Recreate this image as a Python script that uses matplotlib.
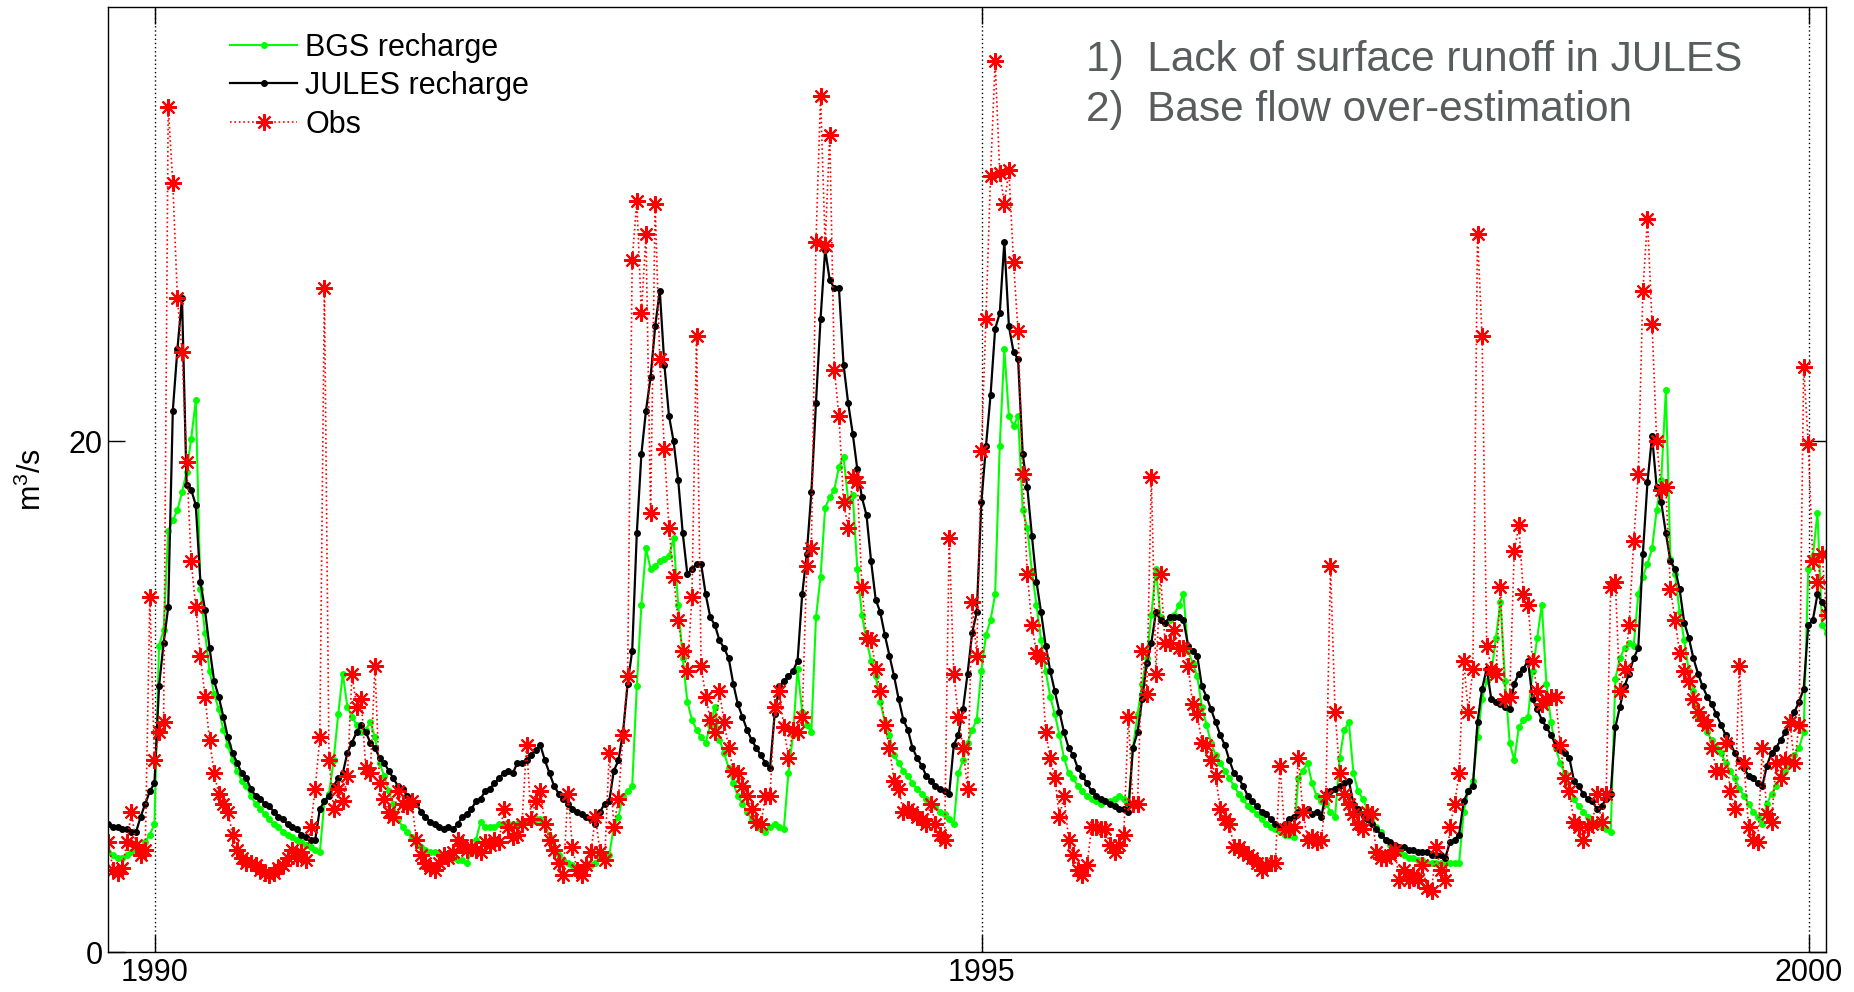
import numpy as np
import matplotlib
matplotlib.use('Agg')
import matplotlib.pyplot as plt

plt.rcParams['font.family'] = ['Liberation Sans', 'DejaVu Sans']
plt.rcParams['mathtext.fontset'] = 'custom'
plt.rcParams['mathtext.rm'] = 'Liberation Sans'

# dekadal series (36 values a year), first value late Sept 1989
t_start = 1989.72
steps_per_year = 36

jules = [
    # 1989
    5.0, 4.9, 4.9, 4.8, 4.8, 4.7, 4.7, 5.3, 5.8, 6.3, 6.6,
    # 1990
    10.4, 12.1, 13.5, 21.2, 23.6, 25.6, 18.3, 18.1, 17.5, 14.5, 13.4, 11.9,
    10.6, 10.0, 9.2, 8.4, 7.8, 7.4, 7.0, 6.8, 6.4, 6.1, 6.0, 5.8,
    5.7, 5.5, 5.3, 5.2, 5.0, 4.9, 4.8, 4.6, 4.5, 4.4, 4.4, 5.6,
    # 1991
    5.9, 6.1, 6.5, 6.8, 7.0, 7.8, 8.2, 8.6, 8.9, 8.6, 8.2, 8.0,
    7.6, 7.4, 7.1, 6.8, 6.5, 6.4, 6.1, 5.9, 5.8, 5.5, 5.3, 5.1,
    5.0, 4.9, 4.8, 4.9, 4.8, 5.0, 5.3, 5.4, 5.6, 5.9, 6.0, 6.3,
    # 1992
    6.4, 6.6, 6.8, 7.0, 7.1, 7.0, 7.4, 7.4, 7.5, 7.7, 7.9, 8.1,
    7.5, 7.0, 6.5, 6.2, 6.0, 5.8, 5.6, 5.5, 5.4, 5.3, 5.2, 5.0,
    5.5, 5.8, 5.9, 7.1, 7.5, 8.6, 10.5, 11.8, 16.4, 19.5, 21.2, 22.5,
    # 1993
    24.5, 25.9, 23.0, 21.0, 20.0, 18.5, 16.4, 14.8, 15.0, 15.2, 15.2, 14.0,
    13.1, 12.8, 12.2, 11.9, 11.5, 10.5, 9.7, 9.2, 8.7, 8.3, 8.0, 7.7,
    7.4, 7.2, 9.3, 10.4, 10.6, 10.8, 11.0, 11.4, 14.0, 15.6, 18.0, 21.5,
    # 1994
    24.8, 27.5, 26.3, 26.0, 26.0, 23.0, 21.5, 20.3, 18.9, 17.8, 17.1, 15.3,
    13.8, 13.3, 12.4, 11.6, 10.8, 9.9, 9.1, 8.7, 8.0, 7.6, 7.3, 6.9,
    6.7, 6.5, 6.4, 6.3, 6.2, 8.1, 8.5, 9.5, 10.9, 12.5, 13.3, 17.6,
    # 1995
    19.8, 21.8, 24.4, 25.0, 27.8, 24.5, 23.5, 23.2, 19.5, 18.2, 16.3, 14.5,
    13.3, 12.0, 11.0, 10.2, 9.4, 8.6, 8.0, 7.7, 7.2, 6.9, 6.6, 6.3,
    6.1, 6.0, 5.9, 5.8, 5.7, 5.6, 5.6, 5.5, 8.0, 8.6, 9.9, 11.3,
    # 1996
    12.1, 13.3, 13.0, 12.9, 13.1, 13.1, 13.1, 13.0, 12.0, 11.8, 11.6, 10.4,
    10.0, 9.5, 9.0, 8.5, 8.1, 7.5, 7.0, 6.8, 6.5, 6.1, 5.9, 5.7,
    5.5, 5.4, 5.2, 5.0, 4.9, 5.0, 5.2, 5.3, 5.5, 5.5, 5.6, 5.4,
    # 1997
    5.5, 5.3, 6.2, 6.3, 6.4, 6.5, 6.6, 6.7, 5.8, 5.6, 5.4, 5.2,
    5.0, 4.8, 4.6, 4.4, 4.3, 4.2, 4.1, 4.1, 4.0, 4.0, 3.9, 3.9,
    3.9, 3.8, 3.8, 3.8, 3.7, 4.3, 4.4, 4.6, 5.9, 6.3, 6.5, 9.0,
    # 1998
    10.3, 11.1, 9.9, 9.8, 9.7, 9.6, 9.5, 10.5, 10.9, 11.1, 11.4, 9.9,
    9.5, 9.1, 8.8, 8.5, 8.1, 7.9, 7.8, 7.6, 6.7, 6.5, 6.2, 6.0,
    5.9, 5.6, 5.7, 6.0, 6.2, 8.8, 9.6, 10.4, 10.9, 11.5, 11.9, 15.6,
    # 1999
    18.4, 20.2, 18.2, 17.6, 16.4, 15.3, 15.0, 14.2, 12.9, 12.3, 11.5, 10.9,
    10.4, 10.0, 9.7, 9.3, 8.9, 8.5, 8.2, 7.8, 7.5, 7.2, 6.9, 6.8,
    6.6, 6.5, 7.3, 7.8, 8.0, 8.3, 8.6, 9.0, 9.4, 9.8, 10.3, 12.8,
    # 2000
    13.0, 14.0, 13.7, 13.4,
]

bgs = [
    # 1989
    3.9, 3.8, 3.7, 3.7, 3.8, 3.9, 4.0, 4.1, 4.3, 4.6, 5.0,
    # 1990
    12.0, 12.6, 16.5, 16.9, 17.3, 18.0, 18.8, 20.1, 21.6, 14.2, 12.5, 11.0,
    10.1, 9.5, 8.7, 8.1, 7.5, 7.1, 6.7, 6.5, 6.1, 5.8, 5.6, 5.4,
    5.2, 5.0, 4.9, 4.7, 4.6, 4.5, 4.4, 4.3, 4.2, 4.1, 4.0, 3.9,
    # 1991
    5.9, 6.2, 7.5, 9.3, 10.9, 9.6, 9.2, 8.9, 8.6, 8.7, 9.0, 8.4,
    7.4, 6.9, 6.3, 5.8, 5.2, 4.9, 4.7, 4.5, 4.3, 4.1, 4.0, 3.9,
    3.9, 3.8, 3.8, 3.7, 3.7, 3.6, 3.6, 3.5, 3.9, 4.4, 5.1, 4.9,
    # 1992
    4.9, 4.9, 5.0, 5.0, 5.0, 5.0, 5.0, 5.0, 5.1, 5.1, 5.2, 5.2,
    5.0, 4.5, 4.0, 3.8, 3.6, 3.5, 3.4, 3.3, 3.3, 3.3, 3.4, 3.5,
    3.7, 3.8, 3.8, 4.9, 5.3, 6.1, 6.3, 6.5, 10.4, 13.6, 15.8, 15.0,
    # 1993
    15.1, 15.3, 15.4, 15.5, 16.2, 13.6, 11.5, 9.8, 9.1, 8.7, 8.4, 8.2,
    8.9, 9.6, 8.3, 7.8, 7.2, 6.6, 6.1, 5.8, 5.5, 5.2, 5.0, 4.8,
    4.7, 4.9, 5.0, 4.9, 4.8, 7.0, 8.5, 11.1, 9.4, 8.9, 8.6, 13.1,
    # 1994
    14.7, 17.4, 17.8, 18.1, 19.0, 19.4, 17.7, 17.9, 15.0, 13.2, 12.2, 11.4,
    10.8, 9.8, 9.0, 8.5, 7.7, 7.4, 7.1, 6.9, 6.6, 6.4, 6.2, 6.0,
    5.8, 5.7, 5.5, 5.4, 5.2, 5.0, 7.0, 7.5, 8.2, 8.7, 9.1, 11.0,
    # 1995
    12.4, 13.0, 14.0, 19.8, 23.6, 21.0, 20.6, 21.0, 17.3, 16.6, 14.9, 13.6,
    12.2, 11.0, 10.0, 9.3, 8.5, 7.6, 7.0, 6.8, 6.5, 6.3, 6.1, 6.0,
    5.9, 5.8, 5.9, 5.9, 6.0, 6.1, 6.0, 5.8, 8.0, 9.3, 10.5, 11.5,
    # 1996
    13.2, 15.0, 13.1, 12.9, 13.0, 13.2, 13.6, 14.0, 11.8, 11.3, 10.8, 9.6,
    8.9, 8.2, 7.7, 7.4, 7.1, 6.8, 6.5, 6.2, 6.0, 5.7, 5.6, 5.4,
    5.2, 5.0, 4.9, 4.8, 4.7, 4.6, 4.6, 4.5, 6.8, 7.1, 7.4, 6.6,
    # 1997
    6.1, 5.9, 5.8, 5.5, 5.3, 7.6, 8.7, 9.0, 7.0, 6.3, 6.0, 5.6,
    5.3, 4.9, 4.7, 4.4, 4.2, 4.1, 3.9, 3.8, 3.7, 3.7, 3.6, 3.6,
    3.5, 3.5, 3.5, 3.5, 3.5, 3.5, 3.5, 3.5, 5.5, 6.3, 6.7, 8.4,
    # 1998
    9.9, 10.6, 10.9, 12.3, 13.7, 10.6, 8.2, 7.5, 8.8, 9.1, 9.2, 11.0,
    12.3, 13.6, 10.5, 9.0, 8.0, 7.4, 7.0, 6.4, 6.0, 5.7, 5.5, 5.3,
    5.1, 5.0, 4.9, 4.8, 4.7, 10.7, 11.5, 11.9, 12.1, 12.0, 14.0, 14.7,
    # 1999
    15.2, 15.8, 17.3, 18.5, 22.0, 15.4, 14.8, 13.3, 12.2, 11.0, 10.2, 9.2,
    8.9, 8.6, 8.3, 8.0, 7.8, 7.4, 7.1, 6.8, 6.4, 6.1, 5.8, 5.5,
    5.3, 5.0, 5.8, 6.2, 6.5, 6.9, 7.1, 7.4, 7.7, 8.0, 8.6, 15.0,
    # 2000
    15.5, 17.2, 12.8, 12.5,
]

obs = [
    # 1989
    4.3, 3.2, 3.1, 3.3, 4.3, 5.5, 4.2, 3.8, 4.0, 13.9, 7.5,
    # 1990
    8.6, 9.0, 33.1, 30.1, 25.6, 23.5, 19.2, 15.3, 13.5, 11.6, 10.0, 8.3,
    7.0, 6.2, 5.8, 5.5, 4.6, 4.0, 3.7, 3.5, 3.5, 3.4, 3.2, 3.1,
    3.0, 3.1, 3.3, 3.4, 3.7, 4.0, 3.7, 3.9, 3.6, 4.9, 6.4, 8.4,
    # 1991
    26.0, 7.5, 5.6, 6.4, 5.9, 6.9, 10.9, 9.6, 9.9, 7.2, 7.0, 11.2,
    6.6, 6.0, 5.5, 5.3, 6.3, 5.8, 5.7, 5.9, 4.4, 3.8, 3.5, 3.3,
    3.2, 3.5, 3.8, 3.7, 3.9, 4.4, 4.2, 4.0, 4.1, 4.0, 3.9, 4.3,
    # 1992
    4.2, 4.4, 4.3, 5.6, 4.9, 4.5, 4.6, 5.0, 8.1, 5.2, 5.9, 6.3,
    5.0, 4.4, 4.0, 3.5, 3.0, 6.2, 4.1, 3.2, 3.0, 3.4, 3.9, 5.3,
    3.9, 3.6, 7.8, 4.9, 6.0, 8.5, 10.8, 27.1, 29.4, 25.0, 28.1, 17.2,
    # 1993
    29.3, 23.2, 19.7, 16.6, 14.7, 13.0, 11.8, 11.0, 13.9, 24.1, 11.2, 10.0,
    9.1, 8.6, 10.2, 9.0, 8.0, 7.1, 7.0, 6.5, 6.1, 5.6, 5.1, 5.0,
    6.1, 6.1, 9.6, 10.2, 8.8, 7.6, 8.7, 8.6, 9.2, 15.1, 15.8, 27.8,
    # 1994
    33.5, 27.7, 32.0, 22.8, 21.0, 17.6, 16.6, 18.6, 18.4, 14.3, 12.3, 12.2,
    11.1, 10.2, 8.9, 8.0, 6.7, 6.4, 5.5, 5.6, 5.5, 5.3, 5.2, 5.0,
    5.8, 5.0, 4.6, 4.4, 16.2, 10.9, 9.2, 8.0, 6.4, 13.7, 11.6, 19.6,
    # 1995
    24.8, 30.4, 34.9, 30.5, 29.3, 30.6, 27.0, 24.3, 18.7, 14.8, 12.8, 11.7,
    11.5, 8.6, 7.6, 6.8, 5.3, 6.1, 4.4, 3.8, 3.2, 3.0, 3.4, 4.9,
    4.9, 4.8, 4.8, 4.2, 3.9, 4.2, 4.6, 9.2, 5.8, 5.8, 11.8, 10.1,
    # 1996
    18.6, 10.9, 14.8, 12.1, 12.1, 12.6, 11.9, 11.9, 11.2, 9.7, 9.3, 8.2,
    8.1, 7.5, 6.9, 5.6, 5.2, 5.0, 4.1, 4.1, 3.9, 3.8, 3.7, 3.5,
    3.2, 3.4, 3.5, 3.5, 7.3, 4.8, 4.8, 4.9, 7.6, 5.5, 4.4, 4.5,
    # 1997
    4.3, 4.4, 6.1, 15.1, 9.4, 7.0, 6.2, 5.8, 5.4, 5.0, 4.8, 5.5,
    5.4, 3.9, 3.7, 3.7, 3.8, 4.0, 2.8, 3.2, 2.8, 3.0, 2.8, 3.4,
    2.5, 2.4, 4.1, 3.2, 2.8, 4.9, 5.8, 7.0, 11.4, 9.4, 11.1, 28.1,
    # 1998
    24.1, 12.0, 11.1, 10.9, 14.3, 9.9, 10.0, 15.7, 16.7, 14.0, 13.6, 11.4,
    10.2, 9.7, 9.9, 10.0, 10.0, 8.1, 6.8, 6.3, 5.1, 4.9, 4.4, 4.9,
    5.0, 6.2, 5.1, 6.2, 14.3, 14.5, 10.2, 11.1, 12.8, 16.1, 18.7, 25.9,
    # 1999
    28.7, 24.6, 20.0, 18.1, 18.2, 14.2, 13.0, 11.7, 11.0, 10.6, 9.9, 9.4,
    9.1, 8.9, 8.0, 7.1, 7.1, 8.2, 6.3, 5.6, 11.2, 7.4, 4.9, 4.4,
    4.3, 8.0, 5.4, 5.1, 7.4, 6.8, 7.5, 9.0, 7.4, 8.9, 22.9, 19.9,
    # 2000
    15.3, 14.5, 15.6, 13.2,
]

t = t_start + np.arange(len(jules)) / steps_per_year

fig = plt.figure(figsize=(18.54, 9.92), dpi=100)
ax = fig.add_axes([108 / 1854, 40 / 992, 1718 / 1854, 945 / 992])

ax.plot(t, bgs, '-', color=(0, 1, 0), lw=1.5, marker='.', ms=8,
        label='BGS recharge')
ax.plot(t, jules, '-', color='k', lw=1.6, marker='.', ms=8,
        label='JULES recharge')
ax.plot(t, obs, ':', color='r', lw=1.2, marker=(8, 2, 0), ms=12, mew=1.5,
        label='Obs')

ax.set_xlim(1989.717, 2000.105)
ax.set_ylim(0, 37)
ax.set_xticks([1990, 1995, 2000])
ax.set_yticks([0, 20])
ax.tick_params(direction='in', length=12, width=1, labelsize=22,
               top=True, right=True, pad=4)
ax.xaxis.grid(True, linestyle=(0, (1, 2)), color='k', lw=1)
ax.set_axisbelow(True)
for s in ax.spines.values():
    s.set_linewidth(1)

ax.set_ylabel(r'm$^{\mathregular{3}}$/s', fontsize=22)
ax.yaxis.set_label_coords(-0.035, 0.5)

ax.legend(loc='upper left', bbox_to_anchor=(0.071, 0.973), frameon=False,
          fontsize=22, handlelength=2.2, handletextpad=0.26,
          labelspacing=0.28, borderpad=0, borderaxespad=0)

note_color = '#585c5c'
ax.text(0.569, 0.932, '1)  Lack of surface runoff in JULES',
        transform=ax.transAxes, fontsize=30.5, color=note_color, va='baseline')
ax.text(0.569, 0.879, '2)  Base flow over-estimation',
        transform=ax.transAxes, fontsize=30.5, color=note_color, va='baseline')

fig.savefig('out.png', dpi=100)
